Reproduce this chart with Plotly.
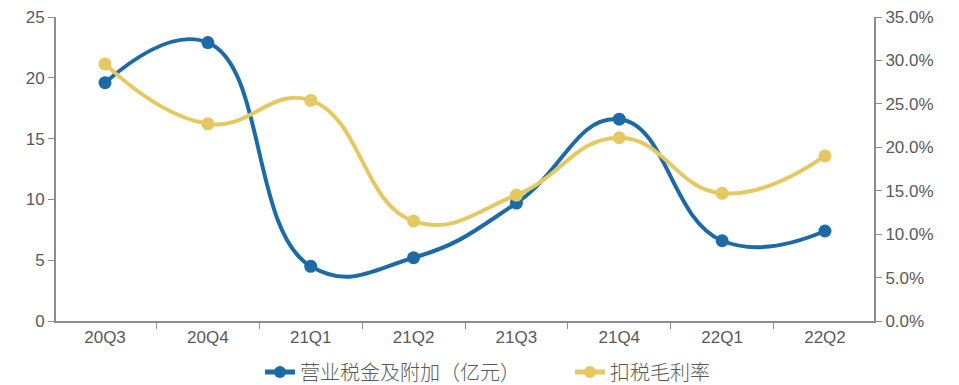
import plotly.graph_objects as go

quarters = ["20Q3", "20Q4", "21Q1", "21Q2", "21Q3", "21Q4", "22Q1", "22Q2"]
tax_surcharge = [19.6, 22.9, 4.5, 5.2, 9.7, 16.6, 6.6, 7.4]          # 亿元
gross_margin_ex_tax = [0.296, 0.227, 0.254, 0.115, 0.145, 0.211, 0.147, 0.190]

left_ticks = [0, 5, 10, 15, 20, 25]
right_ticks = [0.0, 0.05, 0.10, 0.15, 0.20, 0.25, 0.30, 0.35]

BLUE = "#1C6AA6"
GOLD = "#E5C862"
AXIS = "#8C8C8C"
TEXT = "#595959"

fig = go.Figure()
fig.add_trace(go.Scatter(
    x=quarters, y=tax_surcharge, name="营业税金及附加（亿元）",
    mode="lines+markers",
    line=dict(color=BLUE, width=4, shape="spline", smoothing=1.3),
    marker=dict(color=BLUE, size=13),
    yaxis="y",
))
fig.add_trace(go.Scatter(
    x=quarters, y=gross_margin_ex_tax, name="扣税毛利率",
    mode="lines+markers",
    line=dict(color=GOLD, width=4, shape="spline", smoothing=1.3),
    marker=dict(color=GOLD, size=13),
    yaxis="y2",
))

fig.update_layout(
    width=959, height=385,
    margin=dict(l=56, r=85, t=17, b=64, autoexpand=False),
    paper_bgcolor="white", plot_bgcolor="white",
    font=dict(family="Liberation Sans, Arial, sans-serif", size=17, color=TEXT),
    showlegend=True,
    legend=dict(
        orientation="h", x=260 / 959, xref="container", xanchor="left",
        y=0.034, yref="container", yanchor="middle",
        font=dict(family="Noto Sans CJK SC, sans-serif", size=20,
                  color=TEXT, weight=300),
        tracegroupgap=0, bgcolor="rgba(0,0,0,0)",
        entrywidth=265, entrywidthmode="pixels",
        itemsizing="constant",
    ),
    xaxis=dict(
        type="category", showline=True, linecolor=AXIS, linewidth=2,
        ticks="outside", tickson="boundaries", ticklen=6, tickcolor=AXIS,
        showgrid=False, zeroline=False,
        tickfont=dict(size=17, color=TEXT),
    ),
    yaxis=dict(
        range=[0, 25], tickvals=left_ticks, showline=True, linecolor=AXIS,
        linewidth=2, ticks="outside", ticklen=6, tickcolor=AXIS,
        showgrid=False, zeroline=False, tickfont=dict(size=17, color=TEXT),
    ),
    yaxis2=dict(
        range=[0, 0.35], tickvals=right_ticks, tickformat=".1%",
        overlaying="y", side="right", showline=True, linecolor=AXIS,
        linewidth=2, ticks="outside", ticklen=6, tickcolor=AXIS,
        showgrid=False, zeroline=False, tickfont=dict(size=17, color=TEXT),
    ),
)

fig.write_html("out.html")
